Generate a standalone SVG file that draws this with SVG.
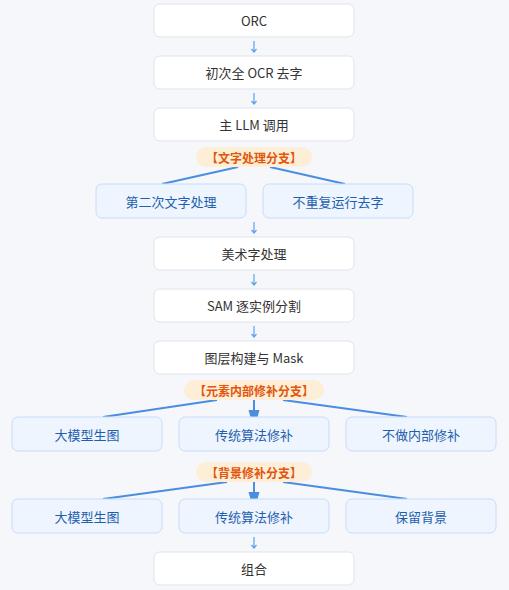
<svg xmlns="http://www.w3.org/2000/svg" width="509" height="590" viewBox="0 0 509 590">
<defs>
<style>
.main rect{fill:#ffffff;stroke:#dfe3ea;stroke-width:1}
.main text{fill:#333333;font-family:"Noto Sans CJK SC","Noto Sans",sans-serif;font-size:13px;text-anchor:middle;dominant-baseline:central}
.br rect{fill:#eef5ff;stroke:#c6dcfa;stroke-width:1}
.br text{fill:#1f5fae;font-family:"Noto Sans CJK SC","Noto Sans",sans-serif;font-size:13px;text-anchor:middle;dominant-baseline:central}
.badge rect{fill:#fdeed7}
.badge text{fill:#e2560b;font-family:"Noto Sans CJK SC","Noto Sans",sans-serif;font-size:12px;font-weight:bold;text-anchor:middle;dominant-baseline:central}
.small{fill:none;stroke:#5aa2ee;stroke-width:1.2}
.link{fill:none;stroke:#4a8ee0;stroke-width:2}
.head{fill:#4a8ee0}
</style>
</defs>
<rect x="0" y="0" width="509" height="590" fill="#f5f7fb"/>
<g id="connectors">
<path class="small" d="M254 41V52M251.5 49L254 52L256.5 49"/>
<path class="small" d="M254 93V104M251.5 101L254 104L256.5 101"/>
<path class="link" d="M238 167L162 184"/>
<path class="link" d="M270 167L345 184"/>
<path class="small" d="M254 222V233M251.5 230L254 233L256.5 230"/>
<path class="small" d="M254 274V285M251.5 282L254 285L256.5 282"/>
<path class="small" d="M254 326V337M251.5 334L254 337L256.5 334"/>
<path class="link" d="M217 400L103 417"/>
<path class="link" d="M254 400V411"/>
<path class="head" d="M248.5 410H259.5L257.5 417H250.5Z"/>
<path class="link" d="M283 400L407 417"/>
<path class="link" d="M227 482L103 499"/>
<path class="link" d="M254 482V493"/>
<path class="head" d="M248.5 492H259.5L257.5 499H250.5Z"/>
<path class="link" d="M283 482L407 499"/>
<path class="small" d="M254 537V548M251.5 545L254 548L256.5 545"/>
</g>
<g id="orc" class="main"><rect x="154" y="4" width="200" height="33" rx="6"/><text x="254" y="20.5">ORC</text></g>
<g id="ocr" class="main"><rect x="154" y="56" width="200" height="33" rx="6"/><text x="254" y="72.5">初次全 OCR 去字</text></g>
<g id="llm" class="main"><rect x="154" y="108" width="200" height="33" rx="6"/><text x="254" y="124.5">主 LLM 调用</text></g>
<g id="badge-text" class="badge"><rect x="196" y="147" width="116" height="20" rx="10"/><text x="254" y="157">【文字处理分支】</text></g>
<g id="text2" class="br"><rect x="96" y="184" width="150" height="34" rx="6"/><text x="171" y="201">第二次文字处理</text></g>
<g id="norepeat" class="br"><rect x="263" y="184" width="150" height="34" rx="6"/><text x="338" y="201">不重复运行去字</text></g>
<g id="art" class="main"><rect x="154" y="237" width="200" height="33" rx="6"/><text x="254" y="253.5">美术字处理</text></g>
<g id="sam" class="main"><rect x="154" y="289" width="200" height="33" rx="6"/><text x="254" y="305.5">SAM 逐实例分割</text></g>
<g id="layer" class="main"><rect x="154" y="341" width="200" height="33" rx="6"/><text x="254" y="357.5">图层构建与 Mask</text></g>
<g id="badge-elem" class="badge"><rect x="184" y="380" width="140" height="20" rx="10"/><text x="254" y="390">【元素内部修补分支】</text></g>
<g id="e-gen" class="br"><rect x="12" y="417" width="150" height="34" rx="6"/><text x="87" y="434">大模型生图</text></g>
<g id="e-trad" class="br"><rect x="179" y="417" width="150" height="34" rx="6"/><text x="254" y="434">传统算法修补</text></g>
<g id="e-none" class="br"><rect x="346" y="417" width="150" height="34" rx="6"/><text x="421" y="434">不做内部修补</text></g>
<g id="badge-bg" class="badge"><rect x="196" y="462" width="116" height="20" rx="10"/><text x="254" y="472">【背景修补分支】</text></g>
<g id="b-gen" class="br"><rect x="12" y="499" width="150" height="34" rx="6"/><text x="87" y="516">大模型生图</text></g>
<g id="b-trad" class="br"><rect x="179" y="499" width="150" height="34" rx="6"/><text x="254" y="516">传统算法修补</text></g>
<g id="b-keep" class="br"><rect x="346" y="499" width="150" height="34" rx="6"/><text x="421" y="516">保留背景</text></g>
<g id="combine" class="main"><rect x="154" y="552" width="200" height="33" rx="6"/><text x="254" y="568.5">组合</text></g>
</svg>
